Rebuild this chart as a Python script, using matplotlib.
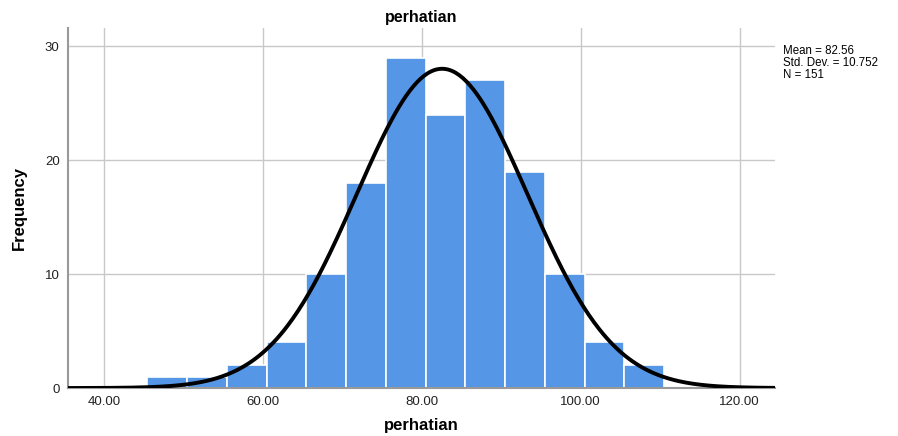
import numpy as np
import matplotlib
matplotlib.use("Agg")
import matplotlib.pyplot as plt

plt.rcParams["font.family"] = ["Liberation Sans", "DejaVu Sans"]

# histogram of perhatian, bins of width 5
bin_edges = [45.5, 50.5, 55.5, 60.5, 65.5, 70.5, 75.5, 80.5, 85.5, 90.5, 95.5, 100.5, 105.5, 110.5]
counts = [1, 1, 2, 4, 10, 18, 29, 24, 27, 19, 10, 4, 2]
mean = 82.56
std = 10.752
n = 151
x_ticks = [40, 60, 80, 100, 120]
y_ticks = [0, 10, 20, 30]

fig = plt.figure(figsize=(8.98, 4.36), dpi=100)
ax = fig.add_axes([0.0757, 0.110, 0.787, 0.826])

lefts = bin_edges[:-1]
widths = np.diff(bin_edges)
ax.bar(lefts, counts, width=widths, align="edge", color="#5596e6",
       edgecolor="white", linewidth=1.2, zorder=2)

xs = np.linspace(35.5, 124.4, 400)
bw = widths[0]
ys = n * bw / (std * np.sqrt(2 * np.pi)) * np.exp(-0.5 * ((xs - mean) / std) ** 2)
ax.plot(xs, ys, color="black", lw=2.8, zorder=3)

ax.set_xlim(35.5, 124.4)
ax.set_ylim(0, 31.6)
ax.set_xticks(x_ticks)
ax.set_xticklabels([f"{t:.2f}" for t in x_ticks])
ax.set_yticks(y_ticks)
ax.tick_params(length=0, labelsize=9.5, colors="#222222", pad=6)
ax.grid(True, color="#c8c8c8", lw=1.0, zorder=0)
ax.set_axisbelow(True)
for s in ("top", "right"):
    ax.spines[s].set_visible(False)
for s in ("left", "bottom"):
    ax.spines[s].set_color("#999999")
    ax.spines[s].set_linewidth(1.5)

ax.set_title("perhatian", fontsize=11.5, fontweight="bold", pad=4)
ax.set_xlabel("perhatian", fontsize=12, fontweight="bold", labelpad=7)
ax.set_ylabel("Frequency", fontsize=12, fontweight="bold", labelpad=13)

fig.text(0.872, 0.897, f"Mean = {mean:.2f}\nStd. Dev. = {std:.3f}\nN = {n}",
         fontsize=8.3, va="top", ha="left", linespacing=1.0)

fig.savefig("out.png", dpi=100)
